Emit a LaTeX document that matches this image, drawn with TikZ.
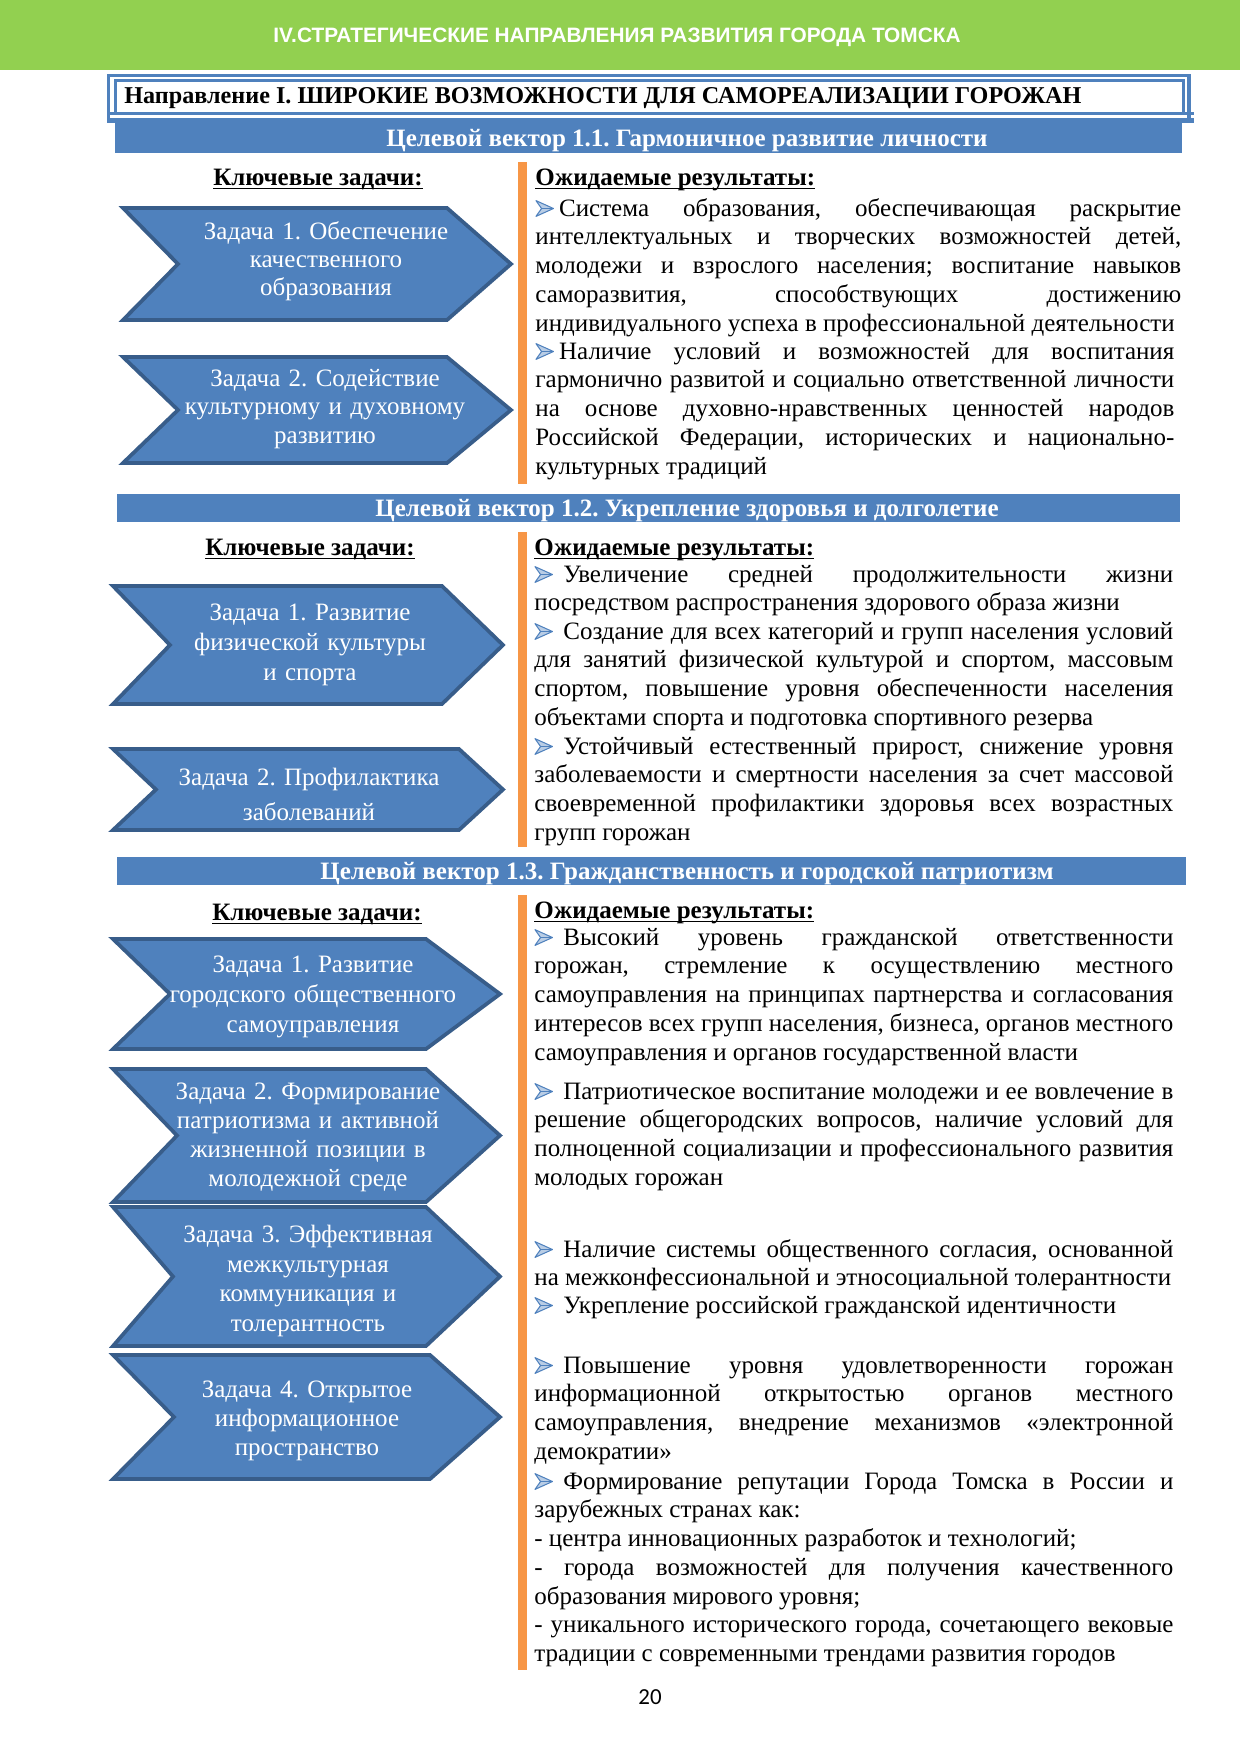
\documentclass[tikz,border=0pt]{standalone}
\usepackage{fontspec}
\setmainfont{Liberation Serif}
\newfontfamily\titlefont{Liberation Sans}
\newfontfamily\pagefont{Carlito}
\definecolor{bandgreen}{HTML}{92D050}
\definecolor{barblue}{HTML}{4F81BD}
\definecolor{taskedge}{HTML}{385D8A}
\definecolor{resultline}{HTML}{F79646}
\definecolor{bulfill}{HTML}{B9CDE5}

% underline that cuts through the descenders, as in the original
\newsavebox\ulbox
\newcommand{\uln}[1]{\sbox\ulbox{#1}\rlap{\rule[-2.1pt]{\wd\ulbox}{0.8pt}}\usebox\ulbox}
% blue arrowhead bullet
\newcommand{\bul}{\tikz[baseline=0pt,x=1pt,y=1pt]{%
    \filldraw[fill=bulfill, draw=barblue, line width=0.5pt, line join=round]
      (0,7.4) -- (8.4,3.6) -- (0,-0.2) -- (2.7,3.6) -- cycle;
    \draw[barblue, line width=0.35pt] (2.7,3.6) -- (8.4,3.6);}}
\newcommand{\resultfont}{\tolerance=10000\hyphenpenalty=10000\exhyphenpenalty=10000}
% chevron: left, shoulder, tip, top, bottom, notch depth
\newcommand{\taskarrow}[6]{%
    \draw[task shape] (#1,#4) -- (#2,#4) -- (#3,{(#4+#5)/2}) -- (#2,#5) -- (#1,#5)
        -- ({#1+#6},{(#4+#5)/2}) -- cycle;}

\begin{document}
\fontsize{12pt}{13.8pt}\selectfont\frenchspacing
\begin{tikzpicture}[x=0.48pt, y=-0.48pt,
    frame line/.style={draw=barblue, line width=1.5pt},
    vector bar/.style={fill=barblue},
    vector title/.style={text=white, font=\bfseries, anchor=base, inner sep=0pt},
    col head/.style={font=\bfseries, inner sep=0pt, anchor=base},
    task shape/.style={fill=barblue, draw=taskedge, line width=1.8pt, line join=miter},
    task text/.style={text=white, align=center, text width=150pt, inner sep=0pt,
        font=\fontsize{12pt}{#1}\selectfont},
    task text/.default=13.8pt,
    result text/.style={anchor=base west, inner sep=0pt, text width=#1,
        align=justify, font=\resultfont},
    result text/.default=306.7pt,
  ]
    \useasboundingbox (0,0) rectangle (1240,1754);

    %% page band
    \fill[bandgreen] (0,0) rectangle (1240,70);
    \node[font=\titlefont\bfseries\fontsize{10pt}{12pt}\selectfont, text=white] (title) at (617,37)
        {IV.СТРАТЕГИЧЕСКИЕ НАПРАВЛЕНИЯ РАЗВИТИЯ ГОРОДА ТОМСКА};

    %% direction frame
    \draw[frame line] (108.5,120) -- (108.5,75.5) -- (1189,75.5) -- (1189,120);
    \draw[frame line] (115.5,113.5) -- (115.5,80.5) -- (1183.5,80.5) -- (1183.5,113.5);
    \draw[frame line] (107,113.5) -- (1194,113.5);
    \draw[barblue, line width=2.4pt] (107,120.5) -- (1194,120.5);
    \node[font=\bfseries\fontsize{11.6pt}{14pt}\selectfont, anchor=base west, inner sep=0pt] (dir) at (124,103)
        {Направление I. ШИРОКИЕ ВОЗМОЖНОСТИ ДЛЯ САМОРЕАЛИЗАЦИИ ГОРОЖАН};

    %% vector 1.1
    \fill[vector bar] (115,123) rectangle (1182,153);
    \node[vector title] (v1) at (687,146) {Целевой вектор 1.1. Гармоничное развитие личности};
    \node[col head] (k1) at (318,185) {\uln{Ключевые задачи:}};
    \node[col head, anchor=base west] (e1) at (535,185) {\uln{Ожидаемые результаты:}};
    \fill[resultline] (518,162) rectangle (527,484);

    \taskarrow{123}{447}{511}{208}{320}{55}
    \node[task text=13.5pt] (z11) at (326,261) {Задача 1. Обеспечение\\ качественного\\ образования};
    \taskarrow{123}{447}{511}{357}{463}{55}
    \node[task text=13.5pt] (z12) at (325,409) {Задача 2. Содействие\\ культурному и духовному\\ развитию};

    \node[result text=310pt] (r11) at (535,216) {\bul\kern2.5pt Система образования, обеспечивающая раскрытие\linebreak
        интеллектуальных и творческих возможностей детей,\linebreak
        молодежи и взрослого населения; воспитание навыков\linebreak
        саморазвития, способствующих достижению\linebreak
        индивидуального успеха в профессиональной деятельности};
    \node[result text] (r12) at (535,359) {\bul\kern2.5pt Наличие условий и возможностей для воспитания\linebreak
        гармонично развитой и социально ответственной личности\linebreak
        на основе духовно-нравственных ценностей народов\linebreak
        Российской Федерации, исторических и национально-\linebreak
        культурных традиций};

    %% vector 1.2
    \fill[vector bar] (117,494) rectangle (1180,522);
    \node[vector title] (v2) at (687,516) {Целевой вектор 1.2. Укрепление здоровья и долголетие};
    \node[col head] (k2) at (310,555) {\uln{Ключевые задачи:}};
    \node[col head, anchor=base west] (e2) at (534,555) {\uln{Ожидаемые результаты:}};
    \fill[resultline] (518,532) rectangle (527,847);

    \taskarrow{113}{442}{503}{586}{704}{57}
    \node[task text=14.4pt] (z21) at (310,645) {Задача 1. Развитие\\ физической культуры\\ и спорта};
    \taskarrow{113}{459}{503}{749}{830}{43}
    \node[task text=16.8pt] (z22) at (309,794) {Задача 2. Профилактика\\ заболеваний};

    \node[result text] (r21) at (534,582) {\bul\kern5pt Увеличение средней продолжительности жизни\linebreak
        посредством распространения здорового образа жизни};
    \node[result text] (r22) at (534,639) {\bul\kern5pt Создание для всех категорий и групп населения условий\linebreak
        для занятий физической культурой и спортом, массовым\linebreak
        спортом, повышение уровня обеспеченности населения\linebreak
        объектами спорта и подготовка спортивного резерва};
    \node[result text] (r23) at (534,754) {\bul\kern5pt Устойчивый естественный прирост, снижение уровня\linebreak
        заболеваемости и смертности населения за счет массовой\linebreak
        своевременной профилактики здоровья всех возрастных\linebreak
        групп горожан};

    %% vector 1.3
    \fill[vector bar] (117,857) rectangle (1186,885);
    \node[vector title] (v3) at (687,879) {Целевой вектор 1.3. Гражданственность и городской патриотизм};
    \node[col head] (k3) at (317,920) {\uln{Ключевые задачи:}};
    \node[col head, anchor=base west] (e3) at (534,918) {\uln{Ожидаемые результаты:}};
    \fill[resultline] (518,895) rectangle (527,1670);

    \taskarrow{113}{426}{500}{939}{1049}{57}
    \node[task text=14.4pt] (z31) at (313,997) {Задача 1. Развитие\\ городского общественного\\ самоуправления};
    \taskarrow{113}{426}{500}{1069}{1202}{64}
    \node[task text=13.9pt] (z32) at (308,1137) {Задача 2. Формирование\\ патриотизма и активной\\ жизненной позиции в\\ молодежной среде};
    \taskarrow{113}{426}{500}{1207}{1346}{60}
    \node[task text=14.2pt] (z33) at (308,1281) {Задача 3. Эффективная\\ межкультурная\\ коммуникация и\\ толерантность};
    \taskarrow{113}{430}{500}{1355}{1479}{61}
    \node[task text=13.9pt] (z34) at (307,1421) {Задача 4. Открытое\\ информационное\\ пространство};

    \node[result text] (r31) at (534,945) {\bul\kern5pt Высокий уровень гражданской ответственности\linebreak
        горожан, стремление к осуществлению местного\linebreak
        самоуправления на принципах партнерства и согласования\linebreak
        интересов всех групп населения, бизнеса, органов местного\linebreak
        самоуправления и органов государственной власти};
    \node[result text] (r32) at (534,1099) {\bul\kern5pt Патриотическое воспитание молодежи и ее вовлечение в\linebreak
        решение общегородских вопросов, наличие условий для\linebreak
        полноценной социализации и профессионального развития\linebreak
        молодых горожан};
    \node[result text] (r33) at (534,1257) {\bul\kern5pt Наличие системы общественного согласия, основанной\linebreak
        на межконфессиональной и этносоциальной толерантности};
    \node[result text] (r34) at (534,1313) {\bul\kern5pt Укрепление российской гражданской идентичности};
    \node[result text] (r35) at (534,1373) {\bul\kern5pt Повышение уровня удовлетворенности горожан\linebreak
        информационной открытостью органов местного\linebreak
        самоуправления, внедрение механизмов «электронной\linebreak
        демократии»};
    \node[result text] (r36) at (534,1489) {\bul\kern5pt Формирование репутации Города Томска в России и\linebreak
        зарубежных странах как:\par
        - центра инновационных разработок и технологий;\par
        - города возможностей для получения качественного\linebreak
        образования мирового уровня;\par
        - уникального исторического города, сочетающего вековые\linebreak
        традиции с современными трендами развития городов};

    %% page number
    \node[font=\pagefont\fontsize{11pt}{13pt}\selectfont] (pg) at (650,1697) {20};
\end{tikzpicture}
\end{document}
